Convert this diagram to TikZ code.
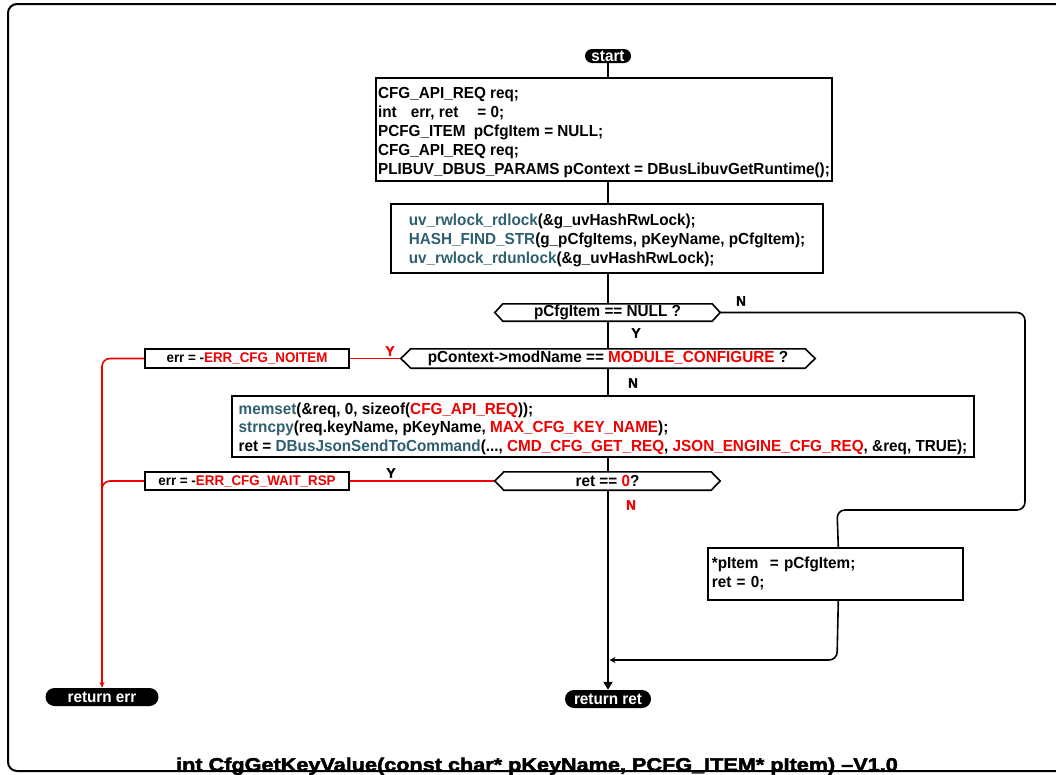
\documentclass[tikz,border=0pt]{standalone}
\usepackage{fontspec}
\usetikzlibrary{arrows.meta}
\newfontfamily\cf[FakeStretch=0.955]{Liberation Sans}
\newfontfamily\tf[FakeStretch=1.17,FakeBold=2.5]{Liberation Sans}
\newfontfamily\lf[FakeBold=2]{Liberation Sans}
\definecolor{fnc}{RGB}{47,96,112}
\definecolor{rdc}{RGB}{240,0,0}
\newcommand\fn[1]{\textcolor{fnc}{#1}}
\newcommand\rd[1]{\textcolor{rdc}{#1}}
\newcommand\hexa[2]{\filldraw[fill=white,line width=1.6] (#1.west) -- ([xshift=#2]#1.north west) -- ([xshift=-#2]#1.north east) -- (#1.east) -- ([xshift=-#2]#1.south east) -- ([xshift=#2]#1.south west) -- cycle;}
\pgfdeclarelayer{lines}
\pgfdeclarelayer{shapes}
\pgfsetlayers{lines,shapes,main}
\begin{document}
\begin{tikzpicture}[x=1pt,y=-1pt,
 box/.style={draw, line width=1.6, fill=white, align=left, inner sep=0, font=\cf\bfseries\fontsize{16}{18.8}\selectfont},
 dec/.style={inner sep=0, font=\cf\bfseries\fontsize{16}{18}\selectfont},
 errbox/.style={draw, line width=1.6, fill=white, inner sep=0, font=\cf\bfseries\fontsize{14}{18}\selectfont},
 pill/.style={fill=black, text=white, inner sep=0, font=\cf\bfseries\fontsize{16}{16}\selectfont},
 lbl/.style={inner sep=0, font=\lf\bfseries\fontsize{13.5}{14}\selectfont},
 flow/.style={line width=1.6},
 mainflow/.style={line width=2.8},
 redflow/.style={line width=1.6, draw=rdc}
]
\clip (0,0) rectangle (1056,774);

% nodes
\node[pill, minimum width=46, minimum height=14, rounded corners=7] (st) at (608,56) {start};
\node[box, minimum width=456, minimum height=103, font=\cf\bfseries\fontsize{16}{19}\selectfont] (b1) at (604,129.5) {\rule{0pt}{18pt}CFG\_API\_REQ req;\\
int\hspace*{14pt}err, ret\hspace*{19pt}= 0;\\
PCFG\_ITEM\hspace*{4pt} pCfgItem = NULL;\\
CFG\_API\_REQ req;\\
PLIBUV\_DBUS\_PARAMS pContext = DBusLibuvGetRuntime();};
\node[box, minimum width=432, minimum height=69] (b2) at (607,238.5) {\rule{0pt}{15pt}\fn{uv\_rwlock\_rdlock}(\&g\_uvHashRwLock);\\
\fn{HASH\_FIND\_STR}(g\_pCfgItems, pKeyName, pCfgItem);\\
\fn{uv\_rwlock\_rdunlock}(\&g\_uvHashRwLock);};
\node[dec, minimum width=225, minimum height=17] (d1) at (607.5,312.5) {pCfgItem == NULL ?};
\node[dec, minimum width=414, minimum height=19] (d2) at (608,358.5) {pContext->modName == \rd{MODULE\_CONFIGURE} ?};
\node[errbox, minimum width=204, minimum height=19] (e1) at (247,358.5) {err = -\rd{ERR\_CFG\_NOITEM}};
\node[box, minimum width=742, minimum height=61] (b4) at (603,426.5) {\rule{0pt}{16pt}\fn{memset}(\&req, 0, sizeof(\rd{CFG\_API\_REQ}));\\
\fn{strncpy}(req.keyName, pKeyName, \rd{MAX\_CFG\_KEY\_NAME});\\
ret = \fn{DBusJsonSendToCommand}(..., \rd{CMD\_CFG\_GET\_REQ}, \rd{JSON\_ENGINE\_CFG\_REQ}, \&req, TRUE);};
\node[dec, minimum width=225, minimum height=18] (d3) at (607.5,481) {ret == \rd{0}?};
\node[errbox, minimum width=204, minimum height=18] (e2) at (247,481) {err = -\rd{ERR\_CFG\_WAIT\_RSP}};
\node[box, anchor=north west, text width=247, inner xsep=4, minimum height=52] (b5) at (707,547) {*pItem\hspace*{6pt} = pCfgItem;\\
ret = 0;};
\node[pill, minimum width=86, minimum height=18, rounded corners=9] (rr) at (608,699) {return ret};
\node[pill, minimum width=113, minimum height=18, rounded corners=9] (re) at (102,697) {return err};
\coordinate (jn) at (609.5,660);

% labels
\node[lbl] (ln1) at (741,301) {N};
\node[lbl] (ly1) at (636,333) {Y};
\node[lbl, text=rdc] (ly2) at (390,351) {Y};
\node[lbl] (ln2) at (633,383) {N};
\node[lbl] (ly3) at (391,473) {Y};
\node[lbl, text=rdc] (ln3) at (631,505) {N};

\begin{pgfonlayer}{shapes}
\hexa{d1}{8}
\hexa{d2}{10}
\hexa{d3}{9}
\end{pgfonlayer}

\begin{pgfonlayer}{lines}
\draw[mainflow, -{Triangle[length=8,width=9]}] (st.south) -- (rr.north);
\draw[flow, rounded corners=8] (d1.east) -- (1025,312.5) -- (1025,510) -- (837,510) -- ([xshift=3]b5.north);
\draw[flow, rounded corners=8, -{Stealth[length=6,width=6]}] ([xshift=3]b5.south) -- (837,660) -- (jn);
\draw[redflow] (d2.west) -- (e1.east);
\draw[redflow, rounded corners=8, -{Stealth[length=6,width=5]}] (e1.west) -- (re.north |- e1.west) -- (re.north);
\draw[redflow] (d3.west) -- (e2.east);
\draw[redflow, rounded corners=8] (e2.west) -- (re.north |- e2.west) -- ++(0,16);
\end{pgfonlayer}

% title and frame
\node[anchor=base, inner sep=0, font=\tf\bfseries\fontsize{18.5}{20}\selectfont] (title) at (537,771) {int CfgGetKeyValue(const char* pKeyName, PCFG\_ITEM* pItem) –V1.0};
\draw[line width=2, rounded corners=9] (8,4) rectangle (1070,771);
\end{tikzpicture}
\end{document}
